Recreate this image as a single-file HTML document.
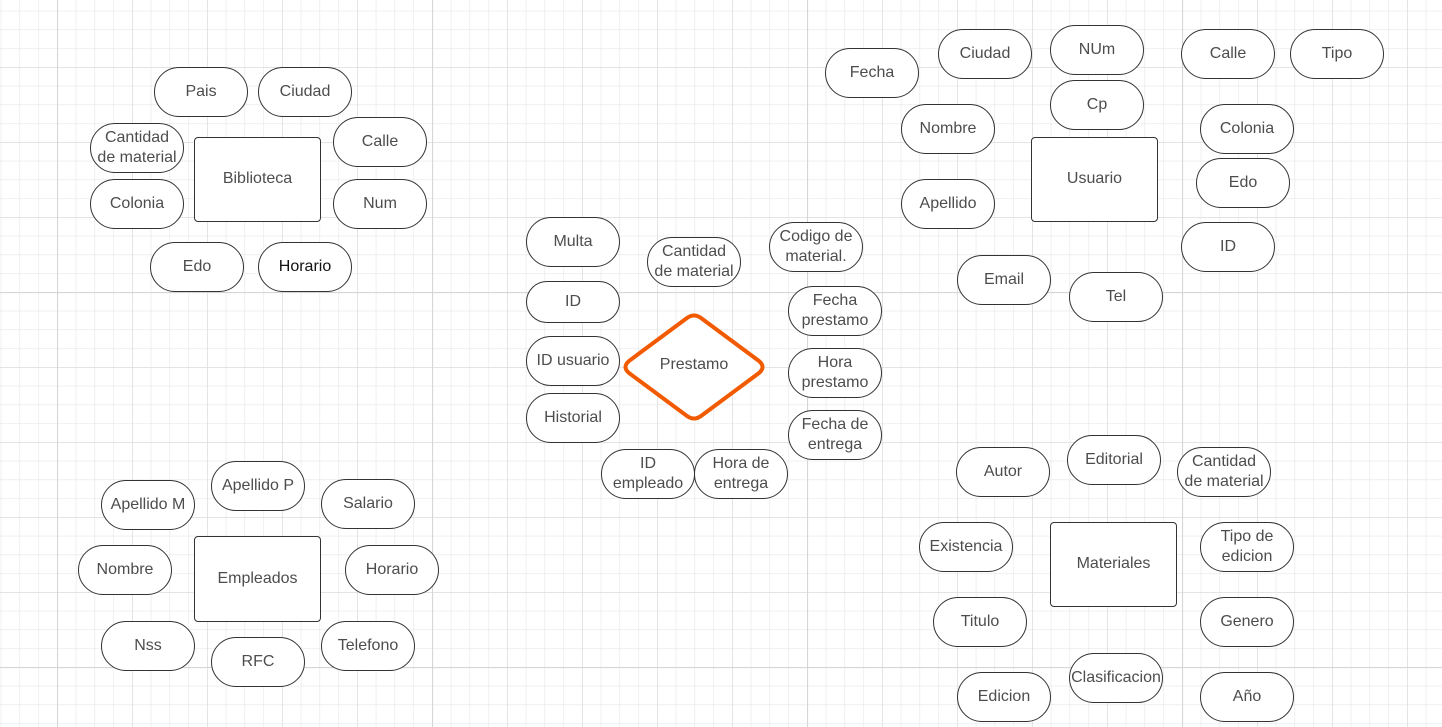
<!DOCTYPE html>
<html><head><meta charset="utf-8"><style>
body{margin:0;width:1442px;height:727px;overflow:hidden;background:#fff;position:relative;font-family:"Liberation Sans",Arial,sans-serif}
svg.g{position:absolute;left:0;top:0}
.p,.r{position:absolute;box-sizing:border-box;border:1px solid #333;background:#fff;display:flex;align-items:center;justify-content:center;text-align:center;color:#4d4d4d;font-size:16px;line-height:20px;padding-bottom:1px}
.p{width:94px;height:50px;border-radius:25px}
.r{width:127px;height:85px;border-radius:4px}
.t{position:absolute;left:622px;top:355px;width:144px;line-height:20px;text-align:center;color:#4d4d4d;font-size:16px}
</style></head><body>
<svg class="g" width="1442" height="727">
<defs>
<pattern id="m" x="0.75" y="10.75" width="18.75" height="18.75" patternUnits="userSpaceOnUse"><path d="M0 0H18.75M0 0V18.75" stroke="#e6e6e6" stroke-width="1.2" fill="none"/></pattern>
<pattern id="M" x="57" y="292" width="75" height="75" patternUnits="userSpaceOnUse"><path d="M0 0H75M0 0V75" stroke="#dedede" stroke-width="1.6" fill="none"/></pattern>
<pattern id="B" x="57" y="292" width="375" height="375" patternUnits="userSpaceOnUse"><path d="M0 0H375M0 0V375" stroke="#d6d6d6" stroke-width="2.2" fill="none"/></pattern>
</defs>
<rect width="1442" height="727" fill="url(#m)"/>
<rect width="1442" height="727" fill="url(#M)"/>
<rect width="1442" height="727" fill="url(#B)"/>
<path d="M687,318 Q694,313 701,318 L759,361 Q766,367 759,373 L701,416 Q694,421 687,416 L629,373 Q622,367 629,361 Z" fill="#fff" stroke="#f25a00" stroke-width="4" stroke-linejoin="round"/>
</svg>
<div class="t">Prestamo</div>

<div class="r" style="left:194px;top:137px">Biblioteca</div>
<div class="p" style="left:154px;top:67px">Pais</div>
<div class="p" style="left:258px;top:67px">Ciudad</div>
<div class="p" style="left:90px;top:123px">Cantidad<br>de material</div>
<div class="p" style="left:333px;top:117px">Calle</div>
<div class="p" style="left:90px;top:179px">Colonia</div>
<div class="p" style="left:333px;top:179px">Num</div>
<div class="p" style="left:150px;top:242px">Edo</div>
<div class="p" style="left:258px;top:242px;color:#111">Horario</div>

<div class="r" style="left:194px;top:536px;height:86px">Empleados</div>
<div class="p" style="left:211px;top:461px">Apellido P</div>
<div class="p" style="left:101px;top:480px">Apellido M</div>
<div class="p" style="left:321px;top:479px">Salario</div>
<div class="p" style="left:78px;top:545px">Nombre</div>
<div class="p" style="left:345px;top:545px">Horario</div>
<div class="p" style="left:101px;top:621px">Nss</div>
<div class="p" style="left:211px;top:637px">RFC</div>
<div class="p" style="left:321px;top:621px">Telefono</div>

<div class="p" style="left:526px;top:217px">Multa</div>
<div class="p" style="left:526px;top:281px;height:42px">ID</div>
<div class="p" style="left:526px;top:336px">ID usuario</div>
<div class="p" style="left:526px;top:393px">Historial</div>
<div class="p" style="left:647px;top:237px">Cantidad<br>de material</div>
<div class="p" style="left:769px;top:222px">Codigo de<br>material.</div>
<div class="p" style="left:788px;top:286px">Fecha<br>prestamo</div>
<div class="p" style="left:788px;top:348px">Hora<br>prestamo</div>
<div class="p" style="left:788px;top:410px">Fecha de<br>entrega</div>
<div class="p" style="left:601px;top:449px">ID<br>empleado</div>
<div class="p" style="left:694px;top:449px">Hora de<br>entrega</div>

<div class="r" style="left:1031px;top:137px">Usuario</div>
<div class="p" style="left:825px;top:48px">Fecha</div>
<div class="p" style="left:938px;top:29px">Ciudad</div>
<div class="p" style="left:1050px;top:25px">NUm</div>
<div class="p" style="left:1050px;top:80px">Cp</div>
<div class="p" style="left:1181px;top:29px">Calle</div>
<div class="p" style="left:1290px;top:29px">Tipo</div>
<div class="p" style="left:901px;top:104px">Nombre</div>
<div class="p" style="left:1200px;top:104px">Colonia</div>
<div class="p" style="left:1196px;top:158px">Edo</div>
<div class="p" style="left:901px;top:179px">Apellido</div>
<div class="p" style="left:1181px;top:222px">ID</div>
<div class="p" style="left:957px;top:255px">Email</div>
<div class="p" style="left:1069px;top:272px">Tel</div>

<div class="r" style="left:1050px;top:522px">Materiales</div>
<div class="p" style="left:956px;top:447px">Autor</div>
<div class="p" style="left:1067px;top:435px">Editorial</div>
<div class="p" style="left:1177px;top:447px">Cantidad<br>de material</div>
<div class="p" style="left:919px;top:522px">Existencia</div>
<div class="p" style="left:1200px;top:522px">Tipo de<br>edicion</div>
<div class="p" style="left:933px;top:597px">Titulo</div>
<div class="p" style="left:1200px;top:597px">Genero</div>
<div class="p" style="left:1069px;top:653px">Clasificacion</div>
<div class="p" style="left:957px;top:672px">Edicion</div>
<div class="p" style="left:1200px;top:672px">Año</div>
</body></html>
